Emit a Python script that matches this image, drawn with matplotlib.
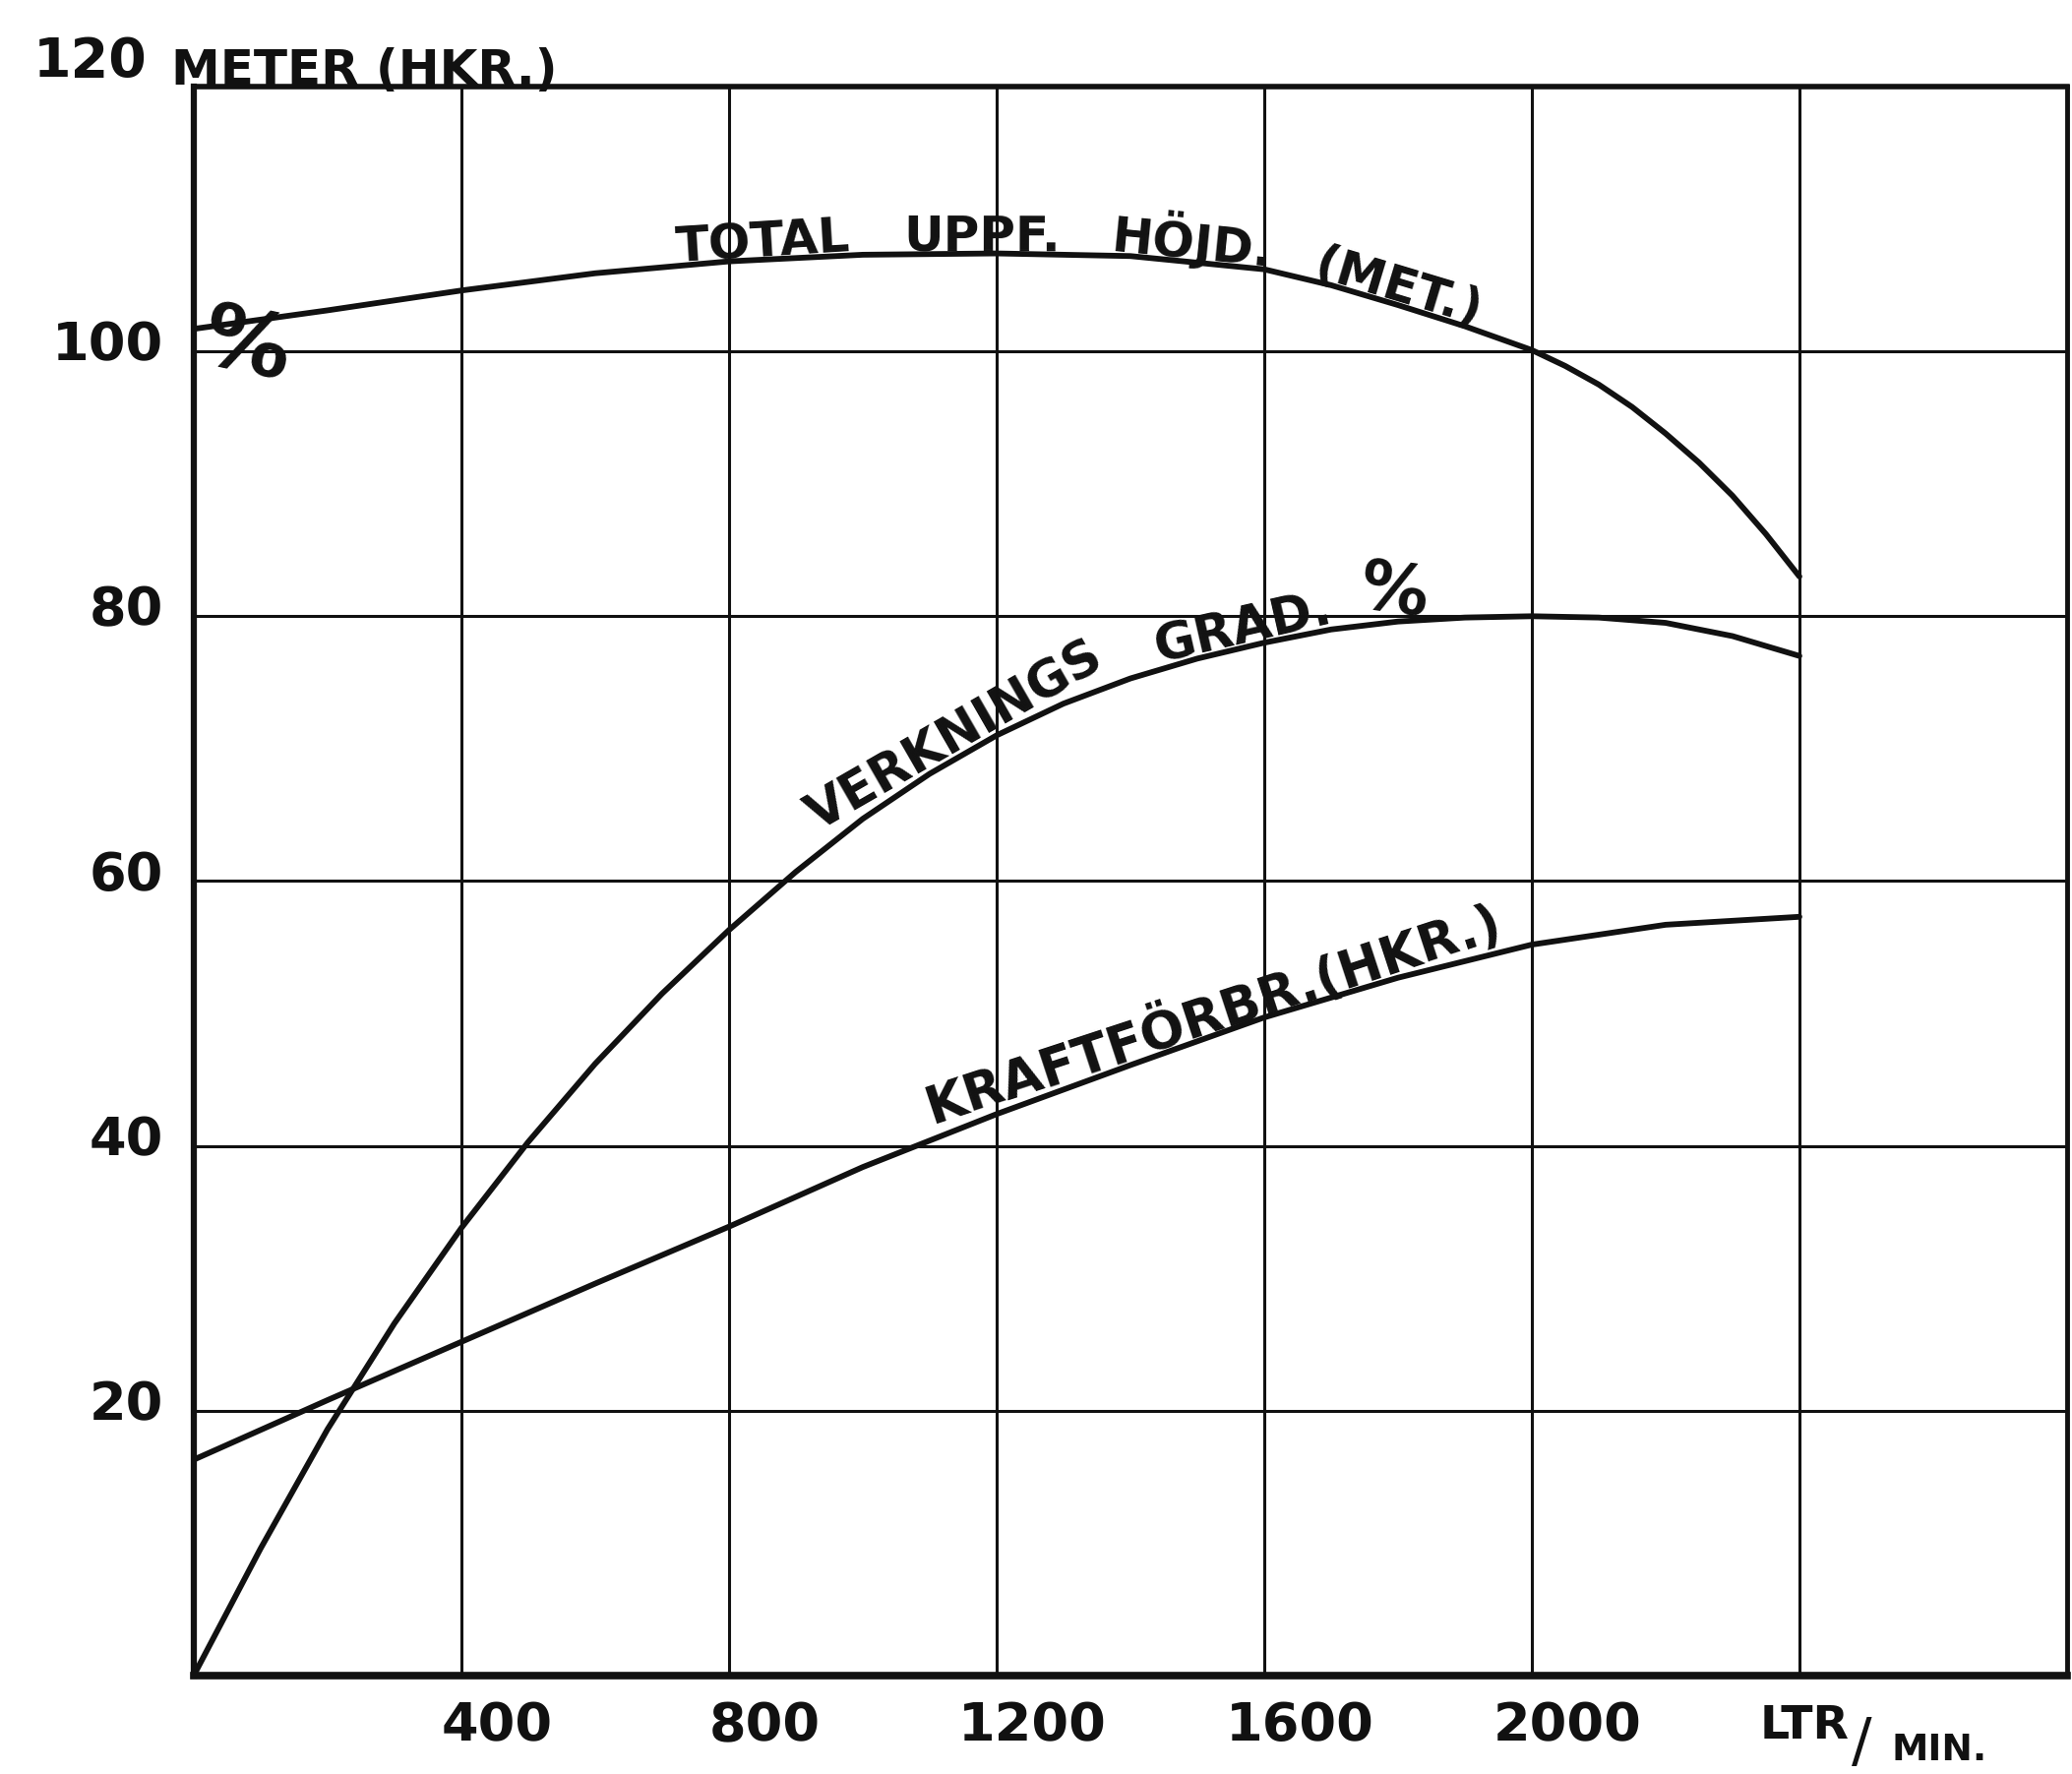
import numpy as np
import matplotlib
matplotlib.use('Agg')
import matplotlib.pyplot as plt
from matplotlib import transforms

INK = '#111111'
FONT = 'DejaVu Sans'

# flow (ltr/min) and the three pump curves
flow_head = [0, 200, 400, 600, 800, 1000, 1200, 1400, 1600, 1700, 1800, 1900,
             2000, 2050, 2100, 2150, 2200, 2250, 2300, 2350, 2400]
head = [101.7, 103.1, 104.6, 105.9, 106.8, 107.3, 107.4, 107.2, 106.2, 105.0,
        103.5, 101.9, 100.1, 98.9, 97.5, 95.8, 93.8, 91.6, 89.1, 86.2, 83.0]

flow_eff = [0, 100, 200, 300, 400, 500, 600, 700, 800, 900, 1000, 1100, 1200,
            1300, 1400, 1500, 1600, 1700, 1800, 1900, 2000, 2100, 2200, 2300, 2400]
eff = [0, 9.6, 18.6, 26.6, 33.8, 40.3, 46.2, 51.5, 56.3, 60.7, 64.7, 68.1, 71.0,
       73.4, 75.3, 76.8, 78.0, 79.0, 79.6, 79.9, 80.0, 79.9, 79.5, 78.5, 77.0]

flow_power = [0, 200, 400, 600, 800, 1000, 1200, 1400, 1600, 1800, 2000, 2200, 2400]
power = [16.3, 20.8, 25.2, 29.6, 33.9, 38.4, 42.4, 46.1, 49.7, 52.7, 55.2, 56.7, 57.3]

x_ticks = [400, 800, 1200, 1600, 2000, 2400]
x_labels = ['400', '800', '1200', '1600', '2000', '']
y_ticks = [20, 40, 60, 80, 100, 120]
y_labels = ['20', '40', '60', '80', '100', '']


def curve_label(ax, xs, ys, text, x0, x1, size=36, lift=5):
    # put a word on the curve between x0 and x1, following its slope
    xm = 0.5 * (x0 + x1)
    p0 = ax.transData.transform((x0, np.interp(x0, xs, ys)))
    p1 = ax.transData.transform((x1, np.interp(x1, xs, ys)))
    ang = np.degrees(np.arctan2(p1[1] - p0[1], p1[0] - p0[0]))
    a = np.radians(ang)
    tr = transforms.offset_copy(ax.transData, fig=ax.figure,
                                x=-lift * np.sin(a), y=lift * np.cos(a), units='points')
    ax.text(xm, np.interp(xm, xs, ys), text, rotation=ang, rotation_mode='anchor',
            ha='center', va='baseline', transform=tr, fontsize=size,
            fontweight='bold', family=FONT, color=INK)


fig = plt.figure(figsize=(21.06, 18.03), dpi=100, facecolor='white')
ax = fig.add_axes([0.0935, 0.0555, 0.9041, 0.8957])
ax.set_facecolor('white')

ax.set_xlim(0, 2800)
ax.set_ylim(0, 120)

ax.set_xticks(x_ticks)
ax.set_xticklabels(x_labels)
ax.set_yticks(y_ticks)
ax.set_yticklabels(y_labels)
ax.tick_params(length=0, labelsize=39, colors=INK)
ax.tick_params(axis='x', pad=18)
ax.tick_params(axis='y', pad=22)
for lbl in ax.get_xticklabels() + ax.get_yticklabels():
    lbl.set_fontweight('bold')
    lbl.set_family(FONT)
for lbl in ax.get_xticklabels():
    lbl.set_transform(lbl.get_transform() + transforms.ScaledTranslation(26 / 72, 0, fig.dpi_scale_trans))
for lbl in ax.get_yticklabels():
    lbl.set_transform(lbl.get_transform() + transforms.ScaledTranslation(0, 8 / 72, fig.dpi_scale_trans))

ax.grid(True, color=INK, linewidth=2.2)
ax.set_axisbelow(True)
for side, lw in (('left', 4.5), ('bottom', 5.5), ('top', 4.0), ('right', 3.5)):
    ax.spines[side].set_linewidth(lw)
    ax.spines[side].set_color(INK)

ax.plot(flow_head, head, color=INK, linewidth=4.2, solid_capstyle='round')
ax.plot(flow_eff, eff, color=INK, linewidth=4.2, solid_capstyle='round')
ax.plot(flow_power, power, color=INK, linewidth=4.2, solid_capstyle='round')

fig.canvas.draw()

curve_label(ax, flow_head, head, 'TOTAL', 710, 996, lift=2)
curve_label(ax, flow_head, head, 'UPPF.', 1051, 1306, lift=2)
curve_label(ax, flow_head, head, 'HÖJD.', 1343, 1634, lift=2)
curve_label(ax, flow_head, head, '(MET.)', 1666, 1922, lift=2)

curve_label(ax, flow_eff, eff, 'VERKNINGS', 905, 1400, size=37, lift=4)
curve_label(ax, flow_eff, eff, 'GRAD.', 1420, 1730, size=37, lift=3)
ax.text(1795, 81.8, '%', fontsize=50, fontweight='bold', family=FONT, color=INK,
        ha='center', va='center', rotation=-8)

curve_label(ax, flow_power, power, 'KRAFTFÖRBR.(HKR.)', 1075, 1990, size=38, lift=3)

ax.text(78, 100.3, '%', fontsize=64, fontweight='bold', family=FONT, color=INK,
        ha='center', va='center', rotation=-12)

# axis units
fig.text(0.016, 0.9567, '120', fontsize=40, fontweight='bold', family=FONT, color=INK,
         ha='left', va='baseline')
fig.text(0.0826, 0.9525, 'METER (HKR.)', fontsize=36, fontweight='bold', family=FONT,
         color=INK, ha='left', va='baseline')

xtr = ax.get_xaxis_transform()
ax.text(2340, -0.0396, 'LTR', transform=xtr, fontsize=34, fontweight='bold',
        family=FONT, color=INK, ha='left', va='baseline')
ax.text(2478, -0.0535, '/', transform=xtr, fontsize=44, family=FONT, color=INK,
        ha='left', va='baseline')
ax.text(2537, -0.0535, 'MIN.', transform=xtr, fontsize=27, fontweight='bold',
        family=FONT, color=INK, ha='left', va='baseline')

fig.savefig('out.png', dpi=100, facecolor='white')
plt.close(fig)
